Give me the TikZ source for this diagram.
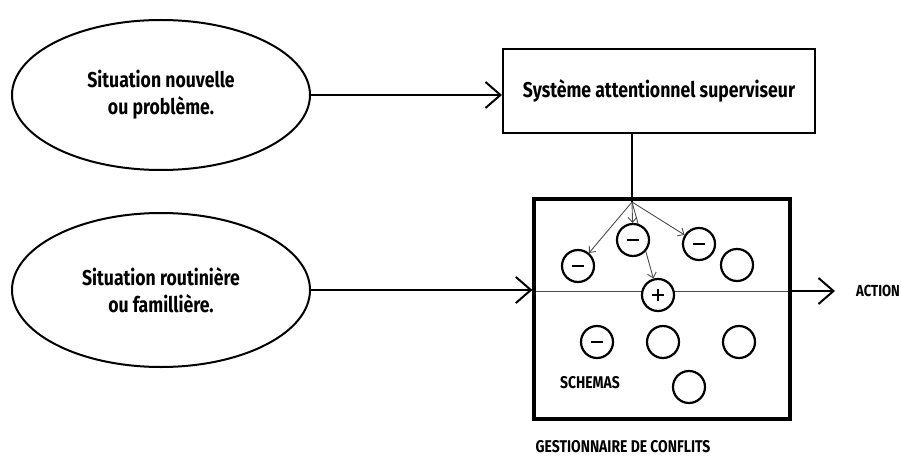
\documentclass[tikz,border=0pt]{standalone}
\usepackage{fontspec}
\setmainfont{Fira Sans}[FakeStretch=0.82]
\usetikzlibrary{shapes.geometric,positioning,backgrounds,arrows.meta}

\begin{document}
\begin{tikzpicture}
        [x=1pt,y=-1pt,
        >={Straight Barb[length=15pt,width=26pt]},
        situation/.style={ellipse,draw,line width=2pt,minimum width=298pt,minimum height=150pt,
            align=center,font=\fontsize{21.5}{27}\selectfont\bfseries},
        schema/.style={circle,draw,fill=white,line width=2.2pt,minimum size=32pt,inner sep=0pt},
        moins/.style={schema,path picture={
            \draw[line width=2.6pt] ([xshift=-6pt]path picture bounding box.center) -- ++(12pt,0);}},
        plus/.style={schema,path picture={
            \draw[line width=2.6pt] ([xshift=-6pt]path picture bounding box.center) -- ++(12pt,0);
            \draw[line width=2.6pt] ([yshift=-6pt]path picture bounding box.center) -- ++(0,12pt);}},
        petit/.style={font=\fontsize{17}{19}\selectfont\bfseries},
        fleche/.style={->,line width=2pt},
        fine/.style={line width=0.9pt,draw=black!70,-{Straight Barb[length=5pt,width=9pt]}}]

        \useasboundingbox (0,0) rectangle (901,457);

        % entrees
        \node[situation] (nouvelle) at (161,95) {Situation nouvelle\\ou problème.};
        \node[situation,minimum height=154pt] (routine) at (161,290) {Situation routinière\\ou famillière.};

        \node[draw,line width=2pt,minimum width=312pt,minimum height=84pt,
            font=\fontsize{21.5}{24}\selectfont\bfseries] (sas) at (659,91) {Système attentionnel superviseur};

        % gestionnaire de conflits
        \node[draw,line width=3.2pt,minimum width=256pt,minimum height=220pt] (gest) at (662,309) {};
        \coordinate (apex) at (632,202);

        \node[moins] (m1) at (578,266) {};
        \node[moins] (m2) at (633,240) {};
        \node[moins] (m3) at (699,244) {};
        \node[schema] (v1) at (737,265) {};
        \node[plus] (p1) at (658,295) {};
        \node[moins] (m4) at (597,342) {};
        \node[schema] (v2) at (663,342) {};
        \node[schema] (v3) at (739,342) {};
        \node[schema] (v4) at (689,387) {};

        \node[petit] (schemas) at (590,383) {SCHEMAS};
        \node[petit] (conflits) at (623,447) {GESTIONNAIRE DE CONFLITS};
        \node[petit,font=\fontsize{16}{18}\selectfont\bfseries,inner sep=1pt,anchor=west] (action) at (855,291) {ACTION};

        \begin{scope}[on background layer]
            \draw[line width=0.9pt,draw=black!70] (gest.west |- action) -- (gest.east |- action);
            \draw[fine] (apex) -- (m1);
            \draw[fine] (apex) -- (m2);
            \draw[fine] (apex) -- (m3);
            \draw[fine] (apex) -- (p1);
        \end{scope}

        \draw[fleche] (nouvelle.east) -- (nouvelle.east -| sas.west);
        \draw[line width=2pt] (sas.south -| apex) -- (apex);
        \draw[fleche] (routine.east) -- (routine.east -| gest.west);
        \draw[fleche,shorten >=20pt] (gest.east |- action.west) -- (action.west);

\end{tikzpicture}
\end{document}
